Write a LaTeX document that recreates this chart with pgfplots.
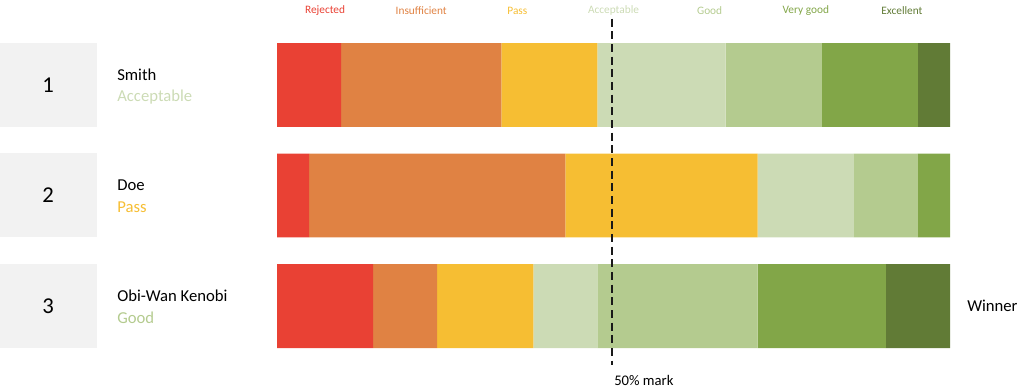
\documentclass[border=0pt]{standalone}
\usepackage{pgfplots}
\pgfplotsset{compat=1.18}
\usepackage{fontspec}
\setmainfont{Carlito}
\definecolor{cRej}{HTML}{E94134}
\definecolor{cIns}{HTML}{E08243}
\definecolor{cPas}{HTML}{F6BE33}
\definecolor{cAcc}{HTML}{CCDBB5}
\definecolor{cGoo}{HTML}{B4CB8F}
\definecolor{cVer}{HTML}{82A648}
\definecolor{cExc}{HTML}{617B36}
\definecolor{boxgray}{HTML}{F2F2F2}
\begin{document}
\begin{tikzpicture}
\begin{scope}[x=0.75pt,y=-0.75pt]
\useasboundingbox (0,0) rectangle (1024,392);
\fill[boxgray] (0,43) rectangle (97,127);
\fill[boxgray] (0,153) rectangle (97,237);
\fill[boxgray] (0,264) rectangle (97,348);
\node[font=\fontsize{17}{20}\selectfont] at (48,85) {1};
\node[font=\fontsize{17}{20}\selectfont] at (48,195) {2};
\node[font=\fontsize{17}{20}\selectfont] at (48,306) {3};
\node[anchor=west,font=\fontsize{12.5}{15}\selectfont,inner sep=0pt] at (117,75) {Smith};
\node[anchor=west,font=\fontsize{12.5}{15}\selectfont,inner sep=0pt,text=cAcc] at (117,97) {Acceptable};
\node[anchor=west,font=\fontsize{12.5}{15}\selectfont,inner sep=0pt] at (117,185) {Doe};
\node[anchor=west,font=\fontsize{12.5}{15}\selectfont,inner sep=0pt,text=cPas] at (117,207) {Pass};
\node[anchor=west,font=\fontsize{12.5}{15}\selectfont,inner sep=0pt] at (117,296) {Obi-Wan Kenobi};
\node[anchor=west,font=\fontsize{12.5}{15}\selectfont,inner sep=0pt,text=cGoo] at (117,318) {Good};
\node[anchor=west,font=\fontsize{12.5}{15}\selectfont,inner sep=0pt] at (967,306) {Winner};
\node[anchor=west,font=\fontsize{11}{13}\selectfont,inner sep=0pt] at (614,380) {50\% mark};
\end{scope}
\begin{axis}[
  at={(207.75pt,-261pt)}, anchor=south west,
  width=504.75pt, height=228.75pt, scale only axis,
  xmin=0, xmax=21, ymin=0.62, ymax=3.38, y dir=reverse,
  hide axis, clip=false,
  xbar stacked, bar width=0.76,
]
\addplot[fill=cRej, draw=none] coordinates {(2,1) (1,2) (3,3)};
\addplot[fill=cIns, draw=none] coordinates {(5,1) (8,2) (2,3)};
\addplot[fill=cPas, draw=none] coordinates {(3,1) (6,2) (3,3)};
\addplot[fill=cAcc, draw=none] coordinates {(4,1) (3,2) (2,3)};
\addplot[fill=cGoo, draw=none] coordinates {(3,1) (2,2) (5,3)};
\addplot[fill=cVer, draw=none] coordinates {(3,1) (1,2) (4,3)};
\addplot[fill=cExc, draw=none] coordinates {(1,1) (0,2) (2,3)};
\coordinate (mtop) at (axis cs:10.45,0.40);
\coordinate (mbot) at (axis cs:10.45,3.53);
\node[text=cRej, font=\fontsize{8.5}{10}\selectfont] at (axis cs:1.5,0.33) {Rejected};
\node[text=cIns, font=\fontsize{8.5}{10}\selectfont] at (axis cs:4.5,0.33) {Insufficient};
\node[text=cPas, font=\fontsize{8.5}{10}\selectfont] at (axis cs:7.5,0.33) {Pass};
\node[text=cAcc, font=\fontsize{8.5}{10}\selectfont] at (axis cs:10.5,0.33) {Acceptable};
\node[text=cGoo, font=\fontsize{8.5}{10}\selectfont] at (axis cs:13.5,0.33) {Good};
\node[text=cVer, font=\fontsize{8.5}{10}\selectfont] at (axis cs:16.5,0.33) {Very good};
\node[text=cExc, font=\fontsize{8.5}{10}\selectfont] at (axis cs:19.5,0.33) {Excellent};
\end{axis}
\draw[black!90, line width=1.4pt, dash pattern=on 6pt off 3.5pt] (mtop) -- (mbot);
\end{tikzpicture}
\end{document}
